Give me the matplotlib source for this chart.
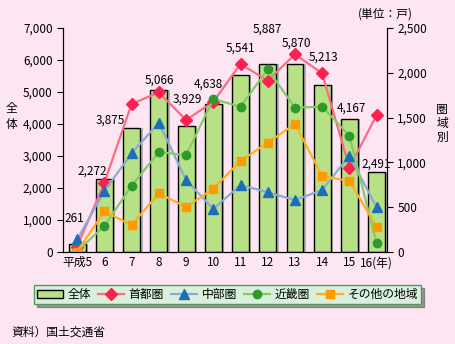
import matplotlib
matplotlib.use('Agg')
import matplotlib.pyplot as plt
import numpy as np

plt.rcParams['font.family'] = ['Noto Sans CJK JP', 'DejaVu Sans']

# Data
years = ['平成5', '6', '7', '8', '9', '10', '11', '12', '13', '14', '15', '16(年)']
total = [261, 2272, 3875, 5066, 3929, 4638, 5541, 5887, 5870, 5213, 4167, 2491]
shutoken = [60, 773, 1652, 1782, 1473, 1677, 2098, 1912, 2206, 1994, 941, 1529]
chubu = [140, 681, 1101, 1443, 804, 480, 748, 666, 580, 692, 1075, 499]
kinki = [10, 290, 740, 1116, 1079, 1707, 1622, 2039, 1611, 1622, 1298, 97]
sonota = [5, 454, 301, 655, 502, 707, 1016, 1220, 1429, 848, 792, 283]

# label offsets (pixels) for bar value labels
label_off = [(-3, 19), (-12, 2), (-21, 1), (1, 3), (1, 21), (-5, 13), (0, 20), (0, 28),
             (1, 15), (1, 22), (2, 4), (0, 2)]

bg = '#fde6f2'
fig = plt.figure(figsize=(4.55, 3.44), dpi=100, facecolor=bg)
ax1 = fig.add_axes([0.1385, 0.2674, 0.712, 0.6512])
ax1.set_facecolor(bg)
x = np.arange(len(years))

# shadow then bars
ax1.bar(x + 0.09, total, width=0.62, color='#b4b4b4', zorder=1)
bars = ax1.bar(x, total, width=0.62, color='#b8e084', edgecolor='black', linewidth=1.0,
               zorder=2, label='全体')

ax1.set_ylim(0, 7000)
ax1.set_xlim(-0.52, 11.38)
ax1.set_yticks(range(0, 7001, 1000))
ax1.set_yticklabels([f'{v:,}' for v in range(0, 7001, 1000)], fontsize=8.5)
ax1.set_xticks(x)
ax1.set_xticklabels(years, fontsize=8.5)
ax1.tick_params(axis='x', length=0, pad=3)
ax1.tick_params(axis='y', length=4, direction='out')
ax1.spines['top'].set_visible(False)

ax2 = ax1.twinx()
ax2.set_ylim(0, 2500)
ax2.set_yticks(range(0, 2501, 500))
ax2.set_yticklabels([f'{v:,}' for v in range(0, 2501, 500)], fontsize=8.5)
ax2.tick_params(axis='y', length=4, direction='out')
ax2.spines['top'].set_visible(False)

l1, = ax2.plot(x, shutoken, color='#ff6a86', lw=1.6, marker='D', ms=6,
               mfc='#ff2050', mec='#ff2050', label='首都圏')
l2, = ax2.plot(x, chubu, color='#8aaad8', lw=1.6, marker='^', ms=6.5,
               mfc='#1a6fb8', mec='#1a6fb8', label='中部圏')
l3, = ax2.plot(x, kinki, color='#84cc64', lw=1.6, marker='o', ms=6,
               mfc='#2e9a2e', mec='#2e9a2e', label='近畿圏')
l4, = ax2.plot(x, sonota, color='#ffb020', lw=1.6, marker='s', ms=6,
               mfc='#ff9a00', mec='#ff9a00', label='その他の地域')

# bar value labels, drawn on top of the lines
for i, v in enumerate(total):
    ax2.annotate(f'{v:,}', xy=(x[i], v), xycoords=ax1.transData, xytext=label_off[i],
                 textcoords='offset pixels', ha='center', va='bottom', fontsize=8.5,
                 zorder=10, annotation_clip=False)

# side labels
fig.text(0.026, 0.66, '全\n体', fontsize=8.5, ha='center', va='center', linespacing=1.3)
fig.text(0.972, 0.64, '圏\n域\n別', fontsize=8.5, ha='center', va='center', linespacing=1.1)
fig.text(0.787, 0.96, '(単位：戸)', fontsize=8.5, ha='left', va='center')

leg = fig.legend([bars, l1, l2, l3, l4], ['全体', '首都圏', '中部圏', '近畿圏', 'その他の地域'],
                 loc='center', bbox_to_anchor=(0.5, 0.143), ncol=5, fontsize=8.5,
                 frameon=True, fancybox=False, shadow=True, handlelength=2.2,
                 handletextpad=0.4, columnspacing=0.6, borderpad=0.25)
leg.get_frame().set_facecolor('#d8f0dc')
leg.get_frame().set_edgecolor('#4f9a5a')
leg.get_frame().set_alpha(1)

fig.text(0.026, 0.035, '資料）国土交通省', fontsize=8.5, ha='left', va='center')

fig.savefig('out.png', dpi=100, facecolor=bg)
